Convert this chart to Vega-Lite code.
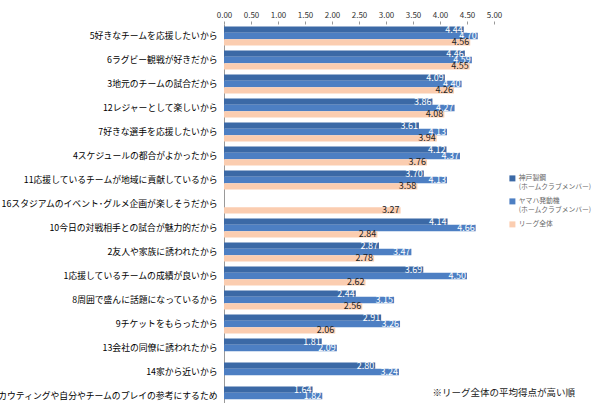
{
  "$schema": "https://vega.github.io/schema/vega-lite/v6.json",
  "autosize": {"type": "none"},
  "padding": {"left": 224, "top": 24, "right": 105, "bottom": 0},
  "width": 270,
  "height": 384,
  "background": "white",
  "config": {
    "font": "Noto Sans CJK JP",
    "view": {"stroke": null},
    "title": {"font": "Noto Sans CJK JP"}
  },
  "title": {
    "text": "※リーグ全体の平均得点が高い順",
    "orient": "bottom",
    "anchor": "end",
    "frame": "group",
    "offset": -20,
    "dx": 81,
    "fontSize": 9.5,
    "fontWeight": "normal",
    "color": "#222"
  },
  "data": {
    "values": [
      {"reason": "5好きなチームを応援したいから", "series": "神戸製鋼\n(ホームクラブメンバー)", "score": 4.44},
      {"reason": "5好きなチームを応援したいから", "series": "ヤマハ発動機\n(ホームクラブメンバー)", "score": 4.70},
      {"reason": "5好きなチームを応援したいから", "series": "リーグ全体", "score": 4.56},
      {"reason": "6ラグビー観戦が好きだから", "series": "神戸製鋼\n(ホームクラブメンバー)", "score": 4.46},
      {"reason": "6ラグビー観戦が好きだから", "series": "ヤマハ発動機\n(ホームクラブメンバー)", "score": 4.59},
      {"reason": "6ラグビー観戦が好きだから", "series": "リーグ全体", "score": 4.55},
      {"reason": "3地元のチームの試合だから", "series": "神戸製鋼\n(ホームクラブメンバー)", "score": 4.09},
      {"reason": "3地元のチームの試合だから", "series": "ヤマハ発動機\n(ホームクラブメンバー)", "score": 4.40},
      {"reason": "3地元のチームの試合だから", "series": "リーグ全体", "score": 4.26},
      {"reason": "12レジャーとして楽しいから", "series": "神戸製鋼\n(ホームクラブメンバー)", "score": 3.86},
      {"reason": "12レジャーとして楽しいから", "series": "ヤマハ発動機\n(ホームクラブメンバー)", "score": 4.27},
      {"reason": "12レジャーとして楽しいから", "series": "リーグ全体", "score": 4.08},
      {"reason": "7好きな選手を応援したいから", "series": "神戸製鋼\n(ホームクラブメンバー)", "score": 3.61},
      {"reason": "7好きな選手を応援したいから", "series": "ヤマハ発動機\n(ホームクラブメンバー)", "score": 4.13},
      {"reason": "7好きな選手を応援したいから", "series": "リーグ全体", "score": 3.94},
      {"reason": "4スケジュールの都合がよかったから", "series": "神戸製鋼\n(ホームクラブメンバー)", "score": 4.12},
      {"reason": "4スケジュールの都合がよかったから", "series": "ヤマハ発動機\n(ホームクラブメンバー)", "score": 4.37},
      {"reason": "4スケジュールの都合がよかったから", "series": "リーグ全体", "score": 3.76},
      {"reason": "11応援しているチームが地域に貢献しているから", "series": "神戸製鋼\n(ホームクラブメンバー)", "score": 3.70},
      {"reason": "11応援しているチームが地域に貢献しているから", "series": "ヤマハ発動機\n(ホームクラブメンバー)", "score": 4.13},
      {"reason": "11応援しているチームが地域に貢献しているから", "series": "リーグ全体", "score": 3.58},
      {"reason": "16スタジアムのイベント･グルメ企画が楽しそうだから", "series": "リーグ全体", "score": 3.27},
      {"reason": "10今日の対戦相手との試合が魅力的だから", "series": "神戸製鋼\n(ホームクラブメンバー)", "score": 4.14},
      {"reason": "10今日の対戦相手との試合が魅力的だから", "series": "ヤマハ発動機\n(ホームクラブメンバー)", "score": 4.66},
      {"reason": "10今日の対戦相手との試合が魅力的だから", "series": "リーグ全体", "score": 2.84},
      {"reason": "2友人や家族に誘われたから", "series": "神戸製鋼\n(ホームクラブメンバー)", "score": 2.87},
      {"reason": "2友人や家族に誘われたから", "series": "ヤマハ発動機\n(ホームクラブメンバー)", "score": 3.47},
      {"reason": "2友人や家族に誘われたから", "series": "リーグ全体", "score": 2.78},
      {"reason": "1応援しているチームの成績が良いから", "series": "神戸製鋼\n(ホームクラブメンバー)", "score": 3.69},
      {"reason": "1応援しているチームの成績が良いから", "series": "ヤマハ発動機\n(ホームクラブメンバー)", "score": 4.50},
      {"reason": "1応援しているチームの成績が良いから", "series": "リーグ全体", "score": 2.62},
      {"reason": "8周囲で盛んに話題になっているから", "series": "神戸製鋼\n(ホームクラブメンバー)", "score": 2.44},
      {"reason": "8周囲で盛んに話題になっているから", "series": "ヤマハ発動機\n(ホームクラブメンバー)", "score": 3.15},
      {"reason": "8周囲で盛んに話題になっているから", "series": "リーグ全体", "score": 2.56},
      {"reason": "9チケットをもらったから", "series": "神戸製鋼\n(ホームクラブメンバー)", "score": 2.91},
      {"reason": "9チケットをもらったから", "series": "ヤマハ発動機\n(ホームクラブメンバー)", "score": 3.26},
      {"reason": "9チケットをもらったから", "series": "リーグ全体", "score": 2.06},
      {"reason": "13会社の同僚に誘われたから", "series": "神戸製鋼\n(ホームクラブメンバー)", "score": 1.81},
      {"reason": "13会社の同僚に誘われたから", "series": "ヤマハ発動機\n(ホームクラブメンバー)", "score": 2.09},
      {"reason": "14家から近いから", "series": "神戸製鋼\n(ホームクラブメンバー)", "score": 2.80},
      {"reason": "14家から近いから", "series": "ヤマハ発動機\n(ホームクラブメンバー)", "score": 3.24},
      {"reason": "15スカウティングや自分やチームのプレイの参考にするため", "series": "神戸製鋼\n(ホームクラブメンバー)", "score": 1.64},
      {"reason": "15スカウティングや自分やチームのプレイの参考にするため", "series": "ヤマハ発動機\n(ホームクラブメンバー)", "score": 1.82}
    ]
  },
  "encoding": {
    "y": {
      "field": "reason",
      "type": "nominal",
      "sort": null,
      "scale": {"paddingInner": 0.21, "paddingOuter": 0.105},
      "axis": {
        "title": null,
        "ticks": false,
        "labelFontSize": 8.8,
        "labelColor": "#000",
        "labelPadding": 7,
        "labelLimit": 400,
        "domainColor": "#999",
        "domainWidth": 1
      }
    },
    "yOffset": {
      "field": "series",
      "type": "nominal",
      "sort": ["神戸製鋼\n(ホームクラブメンバー)", "ヤマハ発動機\n(ホームクラブメンバー)", "リーグ全体"],
      "scale": {"domain": ["神戸製鋼\n(ホームクラブメンバー)", "ヤマハ発動機\n(ホームクラブメンバー)", "リーグ全体"], "paddingInner": 0, "paddingOuter": 0}
    },
    "x": {
      "field": "score",
      "type": "quantitative",
      "scale": {"domain": [0, 5]},
      "axis": {
        "orient": "top",
        "title": null,
        "values": [0, 0.5, 1, 1.5, 2, 2.5, 3, 3.5, 4, 4.5, 5],
        "format": ".2f",
        "grid": false,
        "domain": false,
        "tickSize": 3,
        "tickColor": "#999",
        "labelFontSize": 8,
        "labelColor": "#333",
        "labelPadding": 2,
        "labelFlush": false
      }
    }
  },
  "layer": [
    {
      "mark": {"type": "bar"},
      "encoding": {
        "color": {
          "field": "series",
          "type": "nominal",
          "scale": {
            "domain": ["神戸製鋼\n(ホームクラブメンバー)", "ヤマハ発動機\n(ホームクラブメンバー)", "リーグ全体"],
            "range": ["#3b69a6", "#4d7fc3", "#fbcdb0"]
          },
          "legend": {
            "orient": "none",
            "legendX": 285,
            "legendY": 151,
            "title": null,
            "symbolType": "square",
            "symbolSize": 36,
            "symbolStrokeWidth": 0,
            "labelFontSize": 6.8,
            "labelColor": "#666",
            "labelExpr": "split(datum.label, '\\n')",
            "rowPadding": 7,
            "labelOffset": 3
          }
        }
      }
    },
    {
      "mark": {"type": "text", "align": "right", "baseline": "middle", "dx": -1, "fontSize": 9},
      "encoding": {
        "text": {"field": "score", "type": "quantitative", "format": ".2f"},
        "color": {
          "condition": {"test": "datum.series === 'リーグ全体'", "value": "#222"},
          "value": "#ffffff"
        }
      }
    }
  ]
}
